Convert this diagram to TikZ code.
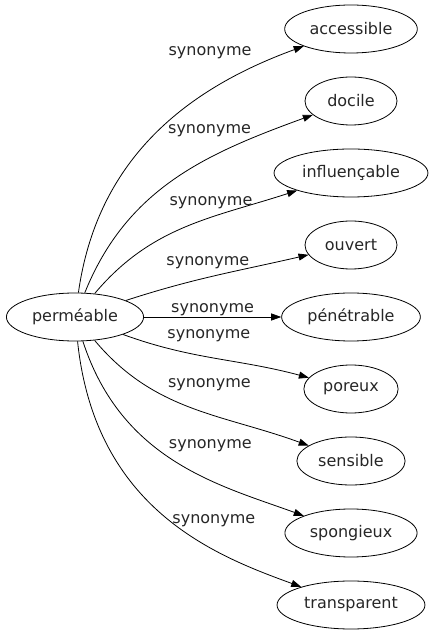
\documentclass[tikz,border=0pt]{standalone}
\usepackage{fontspec}
\setmainfont{DejaVu Sans}
\usetikzlibrary{shapes,arrows.meta,positioning}
\tikzstyle{word}=[ellipse, draw, line width=0.8pt, align=center, inner xsep=5.5pt, minimum width=92pt, minimum height=48pt]
\tikzstyle{syn}=[inner sep=1pt]
\begin{document}
\begin{tikzpicture}[x=1pt, y=1pt, >={Triangle[length=10pt,width=7pt]},
  every node/.style = {font=\fontsize{16}{19}\selectfont, text=black!85}]
\useasboundingbox (0,0) rectangle (441,635);

\node[word](perm) at (75,318) {perméable};
\node[word](acc) at (351,606) {accessible};
\node[word](doc) at (351,534) {docile};
\node[word](inf) at (351,462) {influençable};
\node[word](ouv) at (351,390) {ouvert};
\node[word](pen) at (351,318) {pénétrable};
\node[word](por) at (351,246) {poreux};
\node[word](sen) at (351,174) {sensible};
\node[word](spo) at (351,102) {spongieux};
\node[word](tra) at (351,30) {transparent};

\draw[->,line width=0.8pt](perm) to[out=82,in=200] node[syn,pos=.87,anchor=south east,xshift=-5pt,yshift=5pt] {synonyme} (acc);
\draw[->,line width=0.8pt](perm) to[out=68,in=200] node[syn,pos=.8,anchor=south east] {synonyme} (doc);
\draw[->,line width=0.8pt](perm) to[out=50,in=198] node[syn,pos=.82,anchor=south east,yshift=-6pt] {synonyme} (inf);
\draw[->,line width=0.8pt](perm) to[out=18,in=193] node[syn,pos=.7,anchor=south east,yshift=-3pt] {synonyme} (ouv);
\draw[->,line width=0.8pt](perm) -- node[syn,above] {synonyme} (pen);
\draw[->,line width=0.8pt](perm) to[out=-20,in=165] node[syn,pos=.22,anchor=south west,yshift=5pt] {synonyme} (por);
\draw[->,line width=0.8pt](perm) to[out=-50,in=160] node[syn,pos=.38,anchor=south west,yshift=5pt] {synonyme} (sen);
\draw[->,line width=0.8pt](perm) to[out=-72,in=160,out looseness=1.15,in looseness=.8] node[syn,pos=.49,anchor=south west,xshift=-7pt,yshift=8pt] {synonyme} (spo);
\draw[->,line width=0.8pt](perm) to[out=-84,in=160,out looseness=1.3,in looseness=.7] node[syn,pos=.55,anchor=south west,xshift=-6pt,yshift=-2pt] {synonyme} (tra);

\end{tikzpicture}
\end{document}
